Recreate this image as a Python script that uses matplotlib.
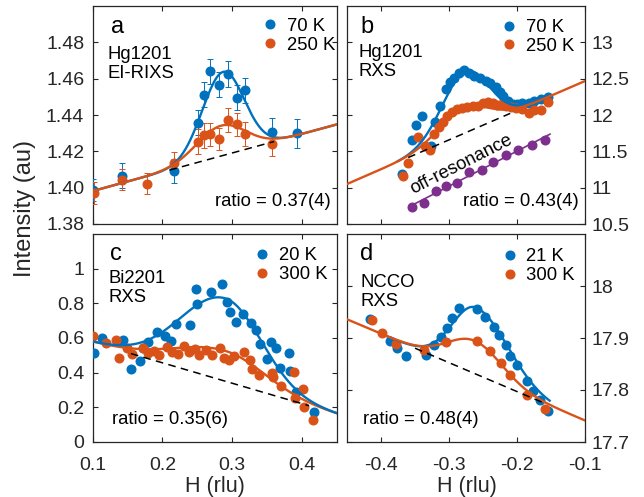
import numpy as np
import matplotlib
matplotlib.use('Agg')
import matplotlib.pyplot as plt
from matplotlib.lines import Line2D

plt.rcParams['font.family'] = ['Liberation Sans', 'DejaVu Sans']
plt.rcParams['axes.unicode_minus'] = False

BLUE = '#0072BD'
ORANGE = '#D95319'
PURPLE = '#7E2F8E'
AXC = '#262626'

# ---------------- Panel a : Hg1201 EI-RIXS ----------------
a_x_70 = [0.101, 0.1416, 0.2161, 0.2507, 0.2593, 0.2684, 0.2806, 0.2944, 0.3063, 0.3182, 0.3567, 0.3932]
a_y_70 = [1.3985, 1.4066, 1.4093, 1.4357, 1.4512, 1.4640, 1.4567, 1.4627, 1.4496, 1.4536, 1.4305, 1.4299]
a_e_70 = [0.0061, 0.0070, 0.0065, 0.0068, 0.0068, 0.0068, 0.0068, 0.0072, 0.0068, 0.0068, 0.0077, 0.0079]
a_x_250 = [0.102, 0.1416, 0.1786, 0.2161, 0.2507, 0.2593, 0.2684, 0.2806, 0.2944, 0.3063, 0.3182, 0.3567]
a_y_250 = [1.3971, 1.4044, 1.4022, 1.4135, 1.4253, 1.4288, 1.4294, 1.4266, 1.4372, 1.4348, 1.4295, 1.4239]
a_e_250 = [0.0059, 0.0057, 0.0059, 0.0060, 0.0068, 0.0068, 0.0064, 0.0061, 0.0068, 0.0064, 0.0068, 0.0064]
# fit: linear background + gaussian (center, amplitude, sigma_left, sigma_right)
a_bg = (0.1, 1.3981, 0.105)
a_fit_70 = (0.287, 0.046, 0.030, 0.030)
a_fit_250 = (0.284, 0.0167, 0.035, 0.035)
a_dash = (0.21, 0.36)

# ---------------- Panel b : Hg1201 RXS ----------------
b_x_70 = [-0.369, -0.355, -0.348, -0.340, -0.327, -0.320, -0.313, -0.305, -0.298, -0.292, -0.285,
          -0.278, -0.270, -0.263, -0.255, -0.245, -0.239, -0.231, -0.225, -0.220, -0.213, -0.206,
          -0.200, -0.192, -0.183, -0.175, -0.165, -0.154]
b_y_70 = [11.19, 11.66, 11.86, 11.99, 11.58, 11.90, 12.12, 12.36, 12.45, 12.51, 12.58,
          12.62, 12.58, 12.54, 12.51, 12.47, 12.44, 12.39, 12.32, 12.26, 12.19, 12.15,
          12.15, 12.17, 12.16, 12.19, 12.22, 12.25]
b_x_250 = [-0.368, -0.361, -0.346, -0.335, -0.328, -0.322, -0.315, -0.309, -0.303, -0.296, -0.288,
           -0.281, -0.274, -0.265, -0.258, -0.250, -0.242, -0.236, -0.229, -0.2225, -0.216, -0.209,
           -0.2015, -0.193, -0.183, -0.175, -0.165, -0.154]
b_y_250 = [11.16, 11.34, 11.70, 11.58, 11.52, 11.74, 11.84, 11.91, 11.98, 12.04, 12.08,
           12.09, 12.11, 12.12, 12.12, 12.17, 12.185, 12.16, 12.14, 12.15, 12.125, 12.115,
           12.095, 12.08, 12.03, 12.07, 12.07, 12.185]
b_x_off = [-0.3547, -0.337, -0.3197, -0.3042, -0.2885, -0.2708, -0.2522, -0.2346, -0.2162, -0.1978, -0.1782, -0.1581]
b_y_off = [10.73, 10.79, 10.95, 11.02, 11.065, 11.22, 11.245, 11.355, 11.455, 11.525, 11.585, 11.66]
b_bg = (-0.45, 11.05, 4.05)
b_fit_70 = (-0.276, 0.843, 0.034, 0.034)
b_fit_250 = (-0.279, 0.35, 0.036, 0.036)
b_dash = (-0.36, -0.21)

# ---------------- Panel c : Bi2201 RXS ----------------
c_x_20 = [0.102, 0.113, 0.144, 0.155, 0.168, 0.172, 0.180, 0.193, 0.204, 0.212, 0.219, 0.240, 0.248,
          0.250, 0.269, 0.285, 0.293, 0.297, 0.306, 0.316, 0.327, 0.334, 0.340, 0.350, 0.355, 0.363,
          0.368, 0.382, 0.383, 0.391, 0.417]
c_y_20 = [0.511, 0.598, 0.588, 0.423, 0.465, 0.540, 0.575, 0.632, 0.613, 0.582, 0.678, 0.673, 0.882,
          0.799, 0.863, 0.911, 0.809, 0.751, 0.693, 0.738, 0.688, 0.646, 0.565, 0.477, 0.578, 0.540,
          0.425, 0.511, 0.411, 0.290, 0.175]
c_x_300 = [0.100, 0.119, 0.133, 0.138, 0.150, 0.156, 0.172, 0.180, 0.188, 0.195, 0.206, 0.214, 0.223,
           0.231, 0.238, 0.247, 0.253, 0.262, 0.271, 0.283, 0.288, 0.295, 0.302, 0.317, 0.325, 0.328,
           0.338, 0.357, 0.359, 0.370, 0.388, 0.390, 0.402, 0.403, 0.415]
c_y_300 = [0.611, 0.572, 0.588, 0.486, 0.540, 0.507, 0.540, 0.515, 0.526, 0.501, 0.549, 0.520, 0.507,
           0.553, 0.520, 0.534, 0.501, 0.530, 0.501, 0.540, 0.482, 0.473, 0.496, 0.521, 0.473, 0.419,
           0.386, 0.400, 0.373, 0.323, 0.405, 0.255, 0.304, 0.200, 0.127]
c_bg = (0.1, 0.575, -1.18)
c_fit_20 = (0.290, 0.478, 0.064, 0.052)
c_fit_300 = (0.290, 0.175, 0.072, 0.057)
c_dash = (0.155, 0.41)

# ---------------- Panel d : NCCO RXS ----------------
d_x_21 = [-0.4157, -0.3863, -0.3765, -0.3632, -0.3338, -0.3216, -0.3118, -0.303, -0.2956, -0.2857, -0.2588,
          -0.2475, -0.2343, -0.2269, -0.2157, -0.2098, -0.200, -0.1853, -0.1765, -0.1666, -0.1544]
d_y_21 = [17.937, 17.895, 17.880, 17.866, 17.868, 17.886, 17.902, 17.920, 17.938, 17.957, 17.955,
          17.940, 17.921, 17.905, 17.886, 17.866, 17.849, 17.818, 17.799, 17.781, 17.760]
d_x_300 = [-0.4127, -0.398, -0.3785, -0.3375, -0.3037, -0.259, -0.2399, -0.2236, -0.2100, -0.1855, -0.1594]
d_y_300 = [17.934, 17.910, 17.888, 17.876, 17.893, 17.894, 17.875, 17.852, 17.828, 17.791, 17.764]
d_bg = (-0.45, 17.936, -0.556)
d_fit_21 = (-0.260, 0.128, 0.035, 0.047)
d_fit_300 = (-0.262, 0.063, 0.040, 0.040)
d_dash = (-0.35, -0.16)

# ---------------- axes / tick texts ----------------
a_yticks = [1.38, 1.40, 1.42, 1.44, 1.46, 1.48]
a_yticklabels = ['1.38', '1.40', '1.42', '1.44', '1.46', '1.48']
b_yticks = [10.5, 11, 11.5, 12, 12.5, 13]
b_yticklabels = ['10.5', '11', '11.5', '12', '12.5', '13']
c_yticks = [0, 0.2, 0.4, 0.6, 0.8, 1.0]
c_yticklabels = ['0', '0.2', '0.4', '0.6', '0.8', '1']
d_yticks = [17.7, 17.8, 17.9, 18.0]
d_yticklabels = ['17.7', '17.8', '17.9', '18']
left_xticks = [0.1, 0.2, 0.3, 0.4]
left_xticklabels = ['0.1', '0.2', '0.3', '0.4']
right_xticks = [-0.4, -0.3, -0.2, -0.1]
right_xticklabels = ['-0.4', '-0.3', '-0.2', '-0.1']


def bg_line(x, bg):
    x0, y0, s = bg
    return y0 + s * (x - x0)


def model(x, bg, fit):
    c, amp, sl, sr = fit
    sig = np.where(x < c, sl, sr)
    return bg_line(x, bg) + amp * np.exp(-(x - c) ** 2 / (2 * sig ** 2))


W, H = 644, 497
fig = plt.figure(figsize=(W / 100, H / 100), dpi=100)


def px_axes(x0, x1, ytop, ybot):
    return fig.add_axes([x0 / W, 1 - ybot / H, (x1 - x0) / W, (ybot - ytop) / H])


axa = px_axes(92.5, 337, 6, 224)
axb = px_axes(347, 585, 6, 224)
axc = px_axes(92.5, 337, 234, 442)
axd = px_axes(347, 585, 234, 442)

FS_TICK = 14
FS_TXT = 13.3
MS = 6.2
LW = 1.7

for ax in (axa, axb, axc, axd):
    for sp in ax.spines.values():
        sp.set_color(AXC)
        sp.set_linewidth(0.9)
    ax.tick_params(direction='in', length=3.8, width=0.8, colors=AXC,
                   top=True, right=True, labelsize=FS_TICK)
    ax.tick_params(axis='x', pad=11)

axa.set_xlim(0.1, 0.45); axa.set_ylim(1.38, 1.50)
axb.set_xlim(-0.45, -0.1); axb.set_ylim(10.5, 13.5)
axc.set_xlim(0.1, 0.45); axc.set_ylim(0, 1.2)
axd.set_xlim(-0.45, -0.1); axd.set_ylim(17.7, 18.1)

axa.set_xticks(left_xticks); axa.set_xticklabels([])
axc.set_xticks(left_xticks); axc.set_xticklabels(left_xticklabels)
axb.set_xticks(right_xticks); axb.set_xticklabels([])
axd.set_xticks(right_xticks); axd.set_xticklabels(right_xticklabels)

axa.set_yticks(a_yticks); axa.set_yticklabels(a_yticklabels)
axc.set_yticks(c_yticks); axc.set_yticklabels(c_yticklabels)
axb.set_yticks(b_yticks); axb.set_yticklabels(b_yticklabels)
axd.set_yticks(d_yticks); axd.set_yticklabels(d_yticklabels)
for ax in (axa, axc):
    ax.tick_params(axis='y', pad=6)
for ax in (axb, axd):
    ax.tick_params(axis='y', labelleft=False, labelright=True, pad=4.5)

# ---- panel a
axa.errorbar(a_x_70, a_y_70, yerr=a_e_70, fmt='o', color=BLUE, ms=MS, elinewidth=0.7,
             capsize=2.5, capthick=0.7, zorder=3)
axa.errorbar(a_x_250, a_y_250, yerr=a_e_250, fmt='o', color=ORANGE, ms=MS, elinewidth=0.7,
             capsize=2.5, capthick=0.7, zorder=3)
xa = np.linspace(0.1, 0.45, 400)
axa.plot(xa, model(xa, a_bg, a_fit_70), color=BLUE, lw=LW, zorder=4)
axa.plot(xa, model(xa, a_bg, a_fit_250), color=ORANGE, lw=LW, zorder=5)
xd = np.linspace(*a_dash, 50)
axa.plot(xd, bg_line(xd, a_bg), '--', color='black', lw=1.1, dashes=(5, 3.5), zorder=6)

# ---- panel b
axb.plot(b_x_70, b_y_70, 'o', color=BLUE, ms=MS, zorder=3)
axb.plot(b_x_250, b_y_250, 'o', color=ORANGE, ms=MS, zorder=3)
axb.plot(b_x_off, b_y_off, 'o', color=PURPLE, ms=MS, zorder=3)
pfit = np.polyfit(b_x_off, b_y_off, 1)
xo = np.linspace(-0.3575, -0.1515, 50)
axb.plot(xo, np.polyval(pfit, xo), color=PURPLE, lw=1.2, zorder=4)
xb70 = np.linspace(-0.375, -0.15, 300)
xb = np.linspace(-0.45, -0.1, 400)
axb.plot(xb70, model(xb70, b_bg, b_fit_70), color=BLUE, lw=LW, zorder=4)
axb.plot(xb, model(xb, b_bg, b_fit_250), color=ORANGE, lw=LW, zorder=5)
xd = np.linspace(*b_dash, 50)
axb.plot(xd, bg_line(xd, b_bg), '--', color='black', lw=1.1, dashes=(5, 3.5), zorder=6)
axb.text(-0.2813, 11.326, 'off-resonance', rotation=27, rotation_mode='anchor',
         ha='center', va='center', fontsize=FS_TXT, color='black')

# ---- panel c
axc.plot(c_x_20, c_y_20, 'o', color=BLUE, ms=MS, zorder=3)
axc.plot(c_x_300, c_y_300, 'o', color=ORANGE, ms=MS, zorder=3)
xc = np.linspace(0.1, 0.45, 400)
axc.plot(xc, model(xc, c_bg, c_fit_300), color=ORANGE, lw=LW, zorder=4)
axc.plot(xc, model(xc, c_bg, c_fit_20), color=BLUE, lw=LW, zorder=5)
xd = np.linspace(*c_dash, 50)
axc.plot(xd, bg_line(xd, c_bg), '--', color='black', lw=1.1, dashes=(5, 3.5), zorder=6)

# ---- panel d
axd.plot(d_x_21, d_y_21, 'o', color=BLUE, ms=MS, zorder=3)
axd.plot(d_x_300, d_y_300, 'o', color=ORANGE, ms=MS, zorder=3)
xd21 = np.linspace(-0.39, -0.152, 300)
xdd = np.linspace(-0.45, -0.1, 400)
axd.plot(xd21, model(xd21, d_bg, d_fit_21), color=BLUE, lw=LW, zorder=4)
axd.plot(xdd, model(xdd, d_bg, d_fit_300), color=ORANGE, lw=LW, zorder=5)
xd = np.linspace(*d_dash, 50)
axd.plot(xd, bg_line(xd, d_bg), '--', color='black', lw=1.1, dashes=(5, 3.5), zorder=6)

# ---- panel texts
panel_info = [
    (axa, 'a', (0.101, 0.905), 'Hg1201\nEI-RIXS', (0.06, 0.733), 'ratio = 0.37(4)', (0.50, 0.102),
     ('70 K', '250 K'), (0.704, 0.863)),
    (axb, 'b', (0.083, 0.905), 'Hg1201\nRXS', (0.0475, 0.741), 'ratio = 0.43(4)', (0.487, 0.102),
     ('70 K', '250 K'), (0.659, 0.858)),
    (axc, 'c', (0.094, 0.905), 'Bi2201\nRXS', (0.067, 0.741), 'ratio = 0.35(6)', (0.080, 0.109),
     ('20 K', '300 K'), (0.671, 0.849)),
    (axd, 'd', (0.083, 0.905), 'NCCO\nRXS', (0.055, 0.719), 'ratio = 0.48(4)', (0.0685, 0.106),
     ('21 K', '300 K'), (0.661, 0.845)),
]
for ax, letter, lpos, name, npos, ratio, rpos, labels, legpos in panel_info:
    ax.text(*lpos, letter, transform=ax.transAxes, fontsize=17, ha='center', va='center')
    ax.text(*npos, name, transform=ax.transAxes, fontsize=FS_TXT, ha='left', va='center',
            linespacing=1.15)
    ax.text(*rpos, ratio, transform=ax.transAxes, fontsize=FS_TXT, ha='left', va='center')
    handles = [Line2D([], [], ls='none', marker='o', color=BLUE, ms=MS),
               Line2D([], [], ls='none', marker='o', color=ORANGE, ms=MS)]
    ax.legend(handles, labels, loc='center left', bbox_to_anchor=legpos, frameon=False,
              fontsize=FS_TXT, handlelength=0.6, handletextpad=0.6, labelspacing=0.1,
              borderpad=0, borderaxespad=0)

fig.text(25 / W, 1 - 208 / H, 'Intensity (au)', rotation=90, ha='center', va='center',
         fontsize=17, color=AXC)
fig.text(215 / W, 1 - 492 / H, 'H (rlu)', ha='center', va='baseline', fontsize=15.5, color=AXC)
fig.text(467 / W, 1 - 492 / H, 'H (rlu)', ha='center', va='baseline', fontsize=15.5, color=AXC)

fig.savefig('out.png', dpi=100)
